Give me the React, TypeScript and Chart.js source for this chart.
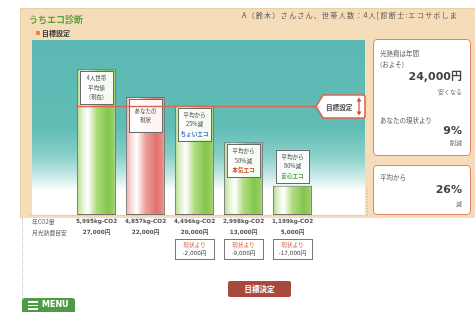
import React, { useEffect, useRef } from 'react';
import { Chart, registerables } from 'chart.js';

Chart.register(...registerables);

// ---- data ----
const categories = ['4人世帯平均値(現在)', 'あなたの現状', '平均から25%減', '平均から50%減', '平均から80%減'];
const co2Values = [5995, 4857, 4496, 2998, 1199];
const co2Labels = ['5,995kg-CO2', '4,857kg-CO2', '4,496kg-CO2', '2,998kg-CO2', '1,199kg-CO2'];
const costLabels = ['27,000円', '22,000円', '20,000円', '13,000円', '5,000円'];
const diffLabels = ['', '', '-2,000円', '-9,000円', '-17,000円'];
const boxLines = [
  ['4人世帯', '平均値', '(現在)'],
  ['あなたの', '現状'],
  ['平均から', '25%減', 'ちょいエコ'],
  ['平均から', '50%減', '本気エコ'],
  ['平均から', '80%減', '安心エコ'],
];
const rowLabels = ['年CO2量', '月光熱費目安'];
const targetValue = 4496;
const yMax = 7200;

// ---- styles ----
const barKinds = ['green', 'red', 'green', 'green', 'green'];
const ecoColors = ['#444', '#444', '#3a74c4', '#d2442c', '#3d9f3a'];
const FONT_J = '"Noto Sans CJK JP", sans-serif';
const FONT_N = '"DejaVu Sans", "Noto Sans CJK JP", sans-serif';

const bgPlugin = {
  id: 'panelBg',
  beforeDraw(chart: any) {
    const { ctx, chartArea } = chart;
    const left = chartArea.left - 40;
    const right = chartArea.right + 48;
    const top = chartArea.top;
    const bottom = chartArea.bottom;
    const g = ctx.createLinearGradient(0, top, 0, bottom);
    g.addColorStop(0, '#5bb8b2');
    g.addColorStop(0.5, '#60bdb6');
    g.addColorStop(0.66, '#88cfc8');
    g.addColorStop(0.78, '#c9eae6');
    g.addColorStop(0.86, '#ffffff');
    g.addColorStop(1, '#ffffff');
    ctx.save();
    ctx.fillStyle = g;
    ctx.fillRect(left, top, right - left, bottom - top);
    ctx.setLineDash([1, 2]);
    ctx.strokeStyle = '#b8b8b8';
    ctx.lineWidth = 1;
    ctx.beginPath();
    ctx.moveTo(left - 1.5, bottom + 0.5);
    ctx.lineTo(right + 2.5, bottom + 0.5);
    ctx.moveTo(right + 2.5, top + 150);
    ctx.lineTo(right + 2.5, bottom + 0.5);
    ctx.stroke();
    ctx.restore();
  },
};

const labelPlugin = {
  id: 'barLabels',
  afterDatasetsDraw(chart: any) {
    const { ctx, chartArea, scales } = chart;
    const meta = chart.getDatasetMeta(0);
    ctx.save();
    ctx.textAlign = 'center';
    ctx.textBaseline = 'middle';
    meta.data.forEach((bar: any, i: number) => {
      const { x, y, width, base } = bar.getProps(['x', 'y', 'width', 'base'], true);
      // inner label box
      const bw = width - 6;
      const bh = 33;
      const bx = x - bw / 2;
      const by = base - y < 40 ? y - bh - 3 : y + 2;
      ctx.fillStyle = 'rgba(255,255,255,0.92)';
      ctx.fillRect(bx, by, bw, bh);
      ctx.strokeStyle = '#6a6a6a';
      ctx.lineWidth = 1;
      ctx.strokeRect(Math.round(bx) + 0.5, Math.round(by) + 0.5, Math.round(bw), bh);
      const lines = boxLines[i];
      const lh = 9.5;
      const cy = by + bh / 2;
      lines.forEach((t, k) => {
        const ly = cy + (k - (lines.length - 1) / 2) * lh;
        const isEco = k === 2 && i >= 2;
        ctx.fillStyle = isEco ? ecoColors[i] : '#444';
        ctx.font = `${isEco ? 'bold ' : ''}5.6px ${FONT_J}`;
        ctx.fillText(t, x, ly);
      });

      // values under axis
      ctx.fillStyle = '#555';
      ctx.font = `bold 5.7px ${FONT_N}`;
      ctx.fillText(co2Labels[i], x, chartArea.bottom + 7);
      ctx.fillText(costLabels[i], x, chartArea.bottom + 18);

      // difference boxes
      if (diffLabels[i]) {
        const dx = x - width / 2;
        const dy = chartArea.bottom + 24;
        ctx.fillStyle = '#fff';
        ctx.fillRect(dx, dy, width, 20);
        ctx.strokeStyle = '#777';
        ctx.strokeRect(Math.round(dx) + 0.5, dy + 0.5, Math.round(width), 20);
        ctx.fillStyle = '#e0603e';
        ctx.font = `5.6px ${FONT_J}`;
        ctx.fillText('現状より', x, dy + 5.5);
        ctx.fillStyle = '#444';
        ctx.font = `5.7px ${FONT_N}`;
        ctx.fillText(diffLabels[i], x, dy + 15);
      }
    });

    // row labels
    ctx.textAlign = 'left';
    ctx.fillStyle = '#555';
    ctx.font = `5.8px ${FONT_J}`;
    ctx.fillText(rowLabels[0], chartArea.left - 40, chartArea.bottom + 7);
    ctx.fillText(rowLabels[1], chartArea.left - 40, chartArea.bottom + 18);

    // target line
    const first = meta.data[0].getProps(['x', 'width'], true);
    const ty = Math.round(scales.y.getPixelForValue(targetValue)) + 0.5;
    const tagRight = chartArea.right + 48;
    const tagLeft = tagRight - 49;
    ctx.strokeStyle = '#de6650';
    ctx.lineWidth = 1.6;
    ctx.beginPath();
    ctx.moveTo(first.x - first.width / 2 - 1, ty);
    ctx.lineTo(tagLeft, ty);
    ctx.stroke();

    // tag
    ctx.beginPath();
    ctx.moveTo(tagLeft, ty);
    ctx.lineTo(tagLeft + 7, ty - 11.5);
    ctx.lineTo(tagRight - 2, ty - 11.5);
    ctx.quadraticCurveTo(tagRight, ty - 11.5, tagRight, ty - 9.5);
    ctx.lineTo(tagRight, ty + 9.5);
    ctx.quadraticCurveTo(tagRight, ty + 11.5, tagRight - 2, ty + 11.5);
    ctx.lineTo(tagLeft + 7, ty + 11.5);
    ctx.closePath();
    ctx.fillStyle = '#fff';
    ctx.fill();
    ctx.stroke();
    ctx.fillStyle = '#444';
    ctx.font = `bold 6.6px ${FONT_J}`;
    ctx.textAlign = 'left';
    ctx.fillText('目標設定', tagLeft + 10, ty + 0.5);
    // up/down arrows
    const ax = tagRight - 6;
    ctx.strokeStyle = '#d64a3a';
    ctx.fillStyle = '#d64a3a';
    ctx.lineWidth = 1.2;
    ctx.beginPath();
    ctx.moveTo(ax, ty - 7);
    ctx.lineTo(ax, ty + 7);
    ctx.stroke();
    ctx.beginPath();
    ctx.moveTo(ax - 2.5, ty - 5);
    ctx.lineTo(ax, ty - 9);
    ctx.lineTo(ax + 2.5, ty - 5);
    ctx.closePath();
    ctx.fill();
    ctx.beginPath();
    ctx.moveTo(ax - 2.5, ty + 5);
    ctx.lineTo(ax, ty + 9);
    ctx.lineTo(ax + 2.5, ty + 5);
    ctx.closePath();
    ctx.fill();
    ctx.restore();
  },
};

function barFill(c: any) {
  const chart = c.chart;
  const xs = chart.scales && chart.scales.x;
  const kind = barKinds[c.dataIndex];
  if (!xs || !chart.chartArea) return kind === 'red' ? '#e67c78' : '#9cd06c';
  const cx = xs.getPixelForValue(c.dataIndex);
  const w = (xs.width / categories.length) * 0.8;
  const g = chart.ctx.createLinearGradient(cx - w / 2, 0, cx + w / 2, 0);
  if (kind === 'red') {
    g.addColorStop(0, '#efaaa6');
    g.addColorStop(0.14, '#f8dcda');
    g.addColorStop(0.28, '#ffffff');
    g.addColorStop(0.5, '#eea19d');
    g.addColorStop(0.78, '#e0716c');
    g.addColorStop(0.93, '#e58a86');
    g.addColorStop(1, '#f0b4b0');
  } else {
    g.addColorStop(0, '#b2da8a');
    g.addColorStop(0.14, '#e2f2d0');
    g.addColorStop(0.28, '#ffffff');
    g.addColorStop(0.5, '#b0dc80');
    g.addColorStop(0.78, '#84c64c');
    g.addColorStop(0.93, '#96ce64');
    g.addColorStop(1, '#badc96');
  }
  return g;
}

type TP = { x: number; y: number; size: number; color?: string; bold?: boolean; right?: boolean; font?: string; spacing?: number; children: React.ReactNode };
function T({ x, y, size, color = '#555', bold = false, right = false, font = FONT_J, spacing = 0, children }: TP) {
  const lh = Math.ceil(size * 1.4);
  const style: React.CSSProperties = {
    position: 'absolute',
    top: y - lh / 2,
    fontSize: size,
    lineHeight: `${lh}px`,
    color,
    fontWeight: bold ? 700 : 400,
    fontFamily: font,
    whiteSpace: 'nowrap',
    letterSpacing: spacing,
  };
  if (right) style.right = 475 - x;
  else style.left = x;
  return <div style={style}>{children}</div>;
}

export default function App() {
  const ref = useRef<HTMLCanvasElement | null>(null);
  useEffect(() => {
    if (!ref.current) return;
    const chart = new Chart(ref.current, {
      type: 'bar',
      data: {
        labels: categories,
        datasets: [
          {
            data: co2Values,
            backgroundColor: barFill as any,
            borderColor: '#6f6f6f',
            borderWidth: 1,
            borderSkipped: false,
            barPercentage: 0.8,
            categoryPercentage: 1,
          },
        ],
      },
      options: {
        responsive: false,
        animation: false,
        layout: { padding: { left: 72, right: 158, top: 40, bottom: 97 } },
        plugins: { legend: { display: false }, tooltip: { enabled: false } },
        scales: {
          x: { display: false, offset: true },
          y: { display: false, min: 0, max: yMax },
        },
      },
      plugins: [bgPlugin, labelPlugin],
    });
    return () => chart.destroy();
  }, []);

  const box: React.CSSProperties = {
    position: 'absolute',
    left: 373,
    width: 98,
    background: '#fff',
    border: '1.5px solid #e2826a',
    borderRadius: 4,
    boxSizing: 'border-box',
  };

  return (
    <div style={{ position: 'absolute', left: 0, top: 0, width: 475, height: 312, background: '#fff', overflow: 'hidden' }}>
      <div style={{ position: 'absolute', left: 20, top: 8, width: 460, height: 210, background: '#f6ddb9', borderTop: '1px solid #e9cfa6', borderLeft: '1px solid #e9cfa6', boxSizing: 'border-box' }} />
      <div style={{ position: 'absolute', left: 22, top: 218, height: 80, borderLeft: '1px dotted #c4c4b0' }} />
      <div style={{ ...box, top: 39, height: 117 }} />
      <div style={{ ...box, top: 165, height: 50 }} />
      <canvas ref={ref} width={475} height={312} style={{ position: 'absolute', left: 0, top: 0, width: 475, height: 312 }} />

      <T x={29} y={19} size={9} bold color="#5f9f3e">うちエコ診断</T>
      <div style={{ position: 'absolute', left: 36, top: 31, width: 4, height: 4, background: '#ec8a3c' }} />
      <T x={42} y={33} size={7} bold color="#333">目標設定</T>
      <T x={242} y={15} size={7.2} spacing={1.1} color="#555">A（鈴木）さんさん、世帯人数：4人[診断士:エコサポしま</T>

      <T x={380} y={53} size={6.5}>光熱費は年間</T>
      <T x={380} y={64} size={6.5}>(およそ)</T>
      <T x={462} y={77} size={11} bold right color="#444" font={FONT_N}>24,000円</T>
      <T x={462} y={91} size={6} right color="#666">安くなる</T>
      <T x={380} y={120} size={6.5}>あなたの現状より</T>
      <T x={462} y={131} size={11} bold right color="#444" font={FONT_N}>9%</T>
      <T x={462} y={142} size={6} right color="#666">削減</T>
      <T x={380} y={177} size={6.5}>平均から</T>
      <T x={462} y={190} size={11} bold right color="#444" font={FONT_N}>26%</T>
      <T x={462} y={203} size={6} right color="#666">減</T>

      <div style={{ position: 'absolute', left: 228, top: 281, width: 63, height: 16, background: '#a8493f', borderRadius: 2, color: '#fff', fontFamily: FONT_J, fontWeight: 700, fontSize: 7.5, lineHeight: '16px', textAlign: 'center' }}>目標決定</div>

      <div style={{ position: 'absolute', left: 22, top: 298, width: 53, height: 18, background: '#4f9a47', borderRadius: 3 }}>
        <div style={{ position: 'absolute', left: 6, top: 3, width: 10, height: 1.6, background: '#fff' }} />
        <div style={{ position: 'absolute', left: 6, top: 6.5, width: 10, height: 1.6, background: '#fff' }} />
        <div style={{ position: 'absolute', left: 6, top: 10, width: 10, height: 1.6, background: '#fff' }} />
        <div style={{ position: 'absolute', left: 20, top: 0, fontFamily: FONT_N, fontWeight: 700, fontSize: 8, lineHeight: '14px', color: '#fff' }}>MENU</div>
      </div>
    </div>
  );
}
